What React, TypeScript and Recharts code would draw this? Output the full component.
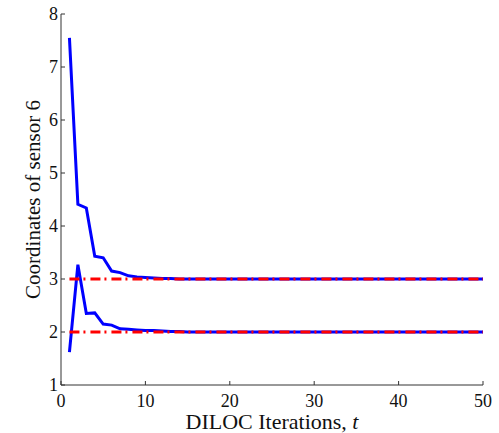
import { LineChart, Line, XAxis, YAxis, Label } from 'recharts';

const iterations = [
  1, 2, 3, 4, 5, 6, 7, 8, 9, 10, 11, 12, 13, 14, 15, 16, 17, 18, 19, 20, 21, 22, 23, 24, 25,
  26, 27, 28, 29, 30, 31, 32, 33, 34, 35, 36, 37, 38, 39, 40, 41, 42, 43, 44, 45, 46, 47, 48, 49, 50,
];

const coordUpper = [
  7.55, 4.41, 4.34, 3.43, 3.4, 3.15, 3.12, 3.06, 3.04, 3.03, 3.02, 3.01, 3.01, 3.0, 3.0, 3.0, 3.0,
  3.0, 3.0, 3.0, 3.0, 3.0, 3.0, 3.0, 3.0, 3.0, 3.0, 3.0, 3.0, 3.0, 3.0, 3.0, 3.0, 3.0, 3.0, 3.0, 3.0,
  3.0, 3.0, 3.0, 3.0, 3.0, 3.0, 3.0, 3.0, 3.0, 3.0, 3.0, 3.0, 3.0,
];

const coordLower = [
  1.62, 3.27, 2.35, 2.36, 2.15, 2.13, 2.06, 2.05, 2.04, 2.03, 2.03, 2.02, 2.01, 2.01, 2.0, 2.0, 2.0,
  2.0, 2.0, 2.0, 2.0, 2.0, 2.0, 2.0, 2.0, 2.0, 2.0, 2.0, 2.0, 2.0, 2.0, 2.0, 2.0, 2.0, 2.0, 2.0, 2.0,
  2.0, 2.0, 2.0, 2.0, 2.0, 2.0, 2.0, 2.0, 2.0, 2.0, 2.0, 2.0, 2.0,
];

// true sensor coordinates
const trueUpper = 3;
const trueLower = 2;

const xTicks = [0, 10, 20, 30, 40, 50];
const yTicks = [1, 2, 3, 4, 5, 6, 7, 8];

const data = iterations.map((t, i) => ({
  t,
  upper: coordUpper[i],
  lower: coordLower[i],
  trueUpper,
  trueLower,
}));

const font = '"Liberation Serif", "DejaVu Serif", serif';
const axisColor = '#333333';
const dashDot = '10 4 2 5';

// recharts rewrites the dasharray attribute on lines, so force it with css
const css = `.dash-dot path { stroke-dasharray: ${dashDot} !important; }`;

const XTick = ({ x, y, payload }: any) => (
  <text x={x} y={y} dy="0.71em" textAnchor="middle" fontSize={18} fill="#111" fontFamily={font}>
    {payload.value}
  </text>
);

const YTick = ({ x, y, payload }: any) => (
  <text x={x} y={y} dy="0.34em" textAnchor="end" fontSize={18} fill="#111" fontFamily={font}>
    {payload.value}
  </text>
);

const XLabel = ({ viewBox }: any) => {
  const cx = viewBox.x + viewBox.width / 2;
  return (
    <text x={cx} y={429} textAnchor="middle" fontSize={22} fill="#111" fontFamily={font}>
      DILOC Iterations, <tspan fontStyle="italic">t</tspan>
    </text>
  );
};

const YLabel = ({ viewBox }: any) => {
  const cy = viewBox.y + viewBox.height / 2;
  return (
    <text
      x={33}
      y={cy}
      transform={`rotate(-90, 33, ${cy})`}
      textAnchor="middle"
      dominantBaseline="central"
      fontSize={21}
      fill="#111"
      fontFamily={font}
    >
      Coordinates of sensor 6
    </text>
  );
};

export default function App() {
  return (
    <div style={{ position: 'absolute', left: 0, top: 0, background: '#fff' }}>
      <style>{css}</style>
      <LineChart
        width={499}
        height={433}
        data={data}
        margin={{ top: 14, right: 16, bottom: 0, left: 0 }}
      >
        <XAxis
          dataKey="t"
          type="number"
          domain={[0, 50]}
          ticks={xTicks}
          stroke={axisColor}
          tick={XTick}
          tickSize={-4}
          tickMargin={13}
          height={48}
        >
          <Label content={XLabel} />
        </XAxis>
        <XAxis
          xAxisId="top"
          orientation="top"
          dataKey="t"
          type="number"
          domain={[0, 50]}
          ticks={xTicks}
          stroke={axisColor}
          tickSize={-4}
          tickFormatter={() => ''}
          height={0}
        />
        <YAxis
          type="number"
          domain={[1, 8]}
          ticks={yTicks}
          stroke={axisColor}
          tick={YTick}
          tickSize={-4}
          tickMargin={7}
          width={61}
        >
          <Label content={YLabel} />
        </YAxis>
        <YAxis
          yAxisId="right"
          orientation="right"
          type="number"
          domain={[1, 8]}
          ticks={yTicks}
          stroke={axisColor}
          tickSize={-4}
          tickFormatter={() => ''}
          width={0}
        />
        <Line
          dataKey="upper"
          stroke="#0000ff"
          strokeWidth={3}
          dot={false}
          activeDot={false}
          isAnimationActive={false}
        />
        <Line
          dataKey="lower"
          stroke="#0000ff"
          strokeWidth={3}
          dot={false}
          activeDot={false}
          isAnimationActive={false}
        />
        <Line
          dataKey="trueUpper"
          className="dash-dot"
          stroke="#ff0000"
          strokeWidth={3}
          strokeDasharray={dashDot}
          dot={false}
          activeDot={false}
          isAnimationActive={false}
        />
        <Line
          dataKey="trueLower"
          className="dash-dot"
          stroke="#ff0000"
          strokeWidth={3}
          strokeDasharray={dashDot}
          dot={false}
          activeDot={false}
          isAnimationActive={false}
        />
      </LineChart>
    </div>
  );
}
